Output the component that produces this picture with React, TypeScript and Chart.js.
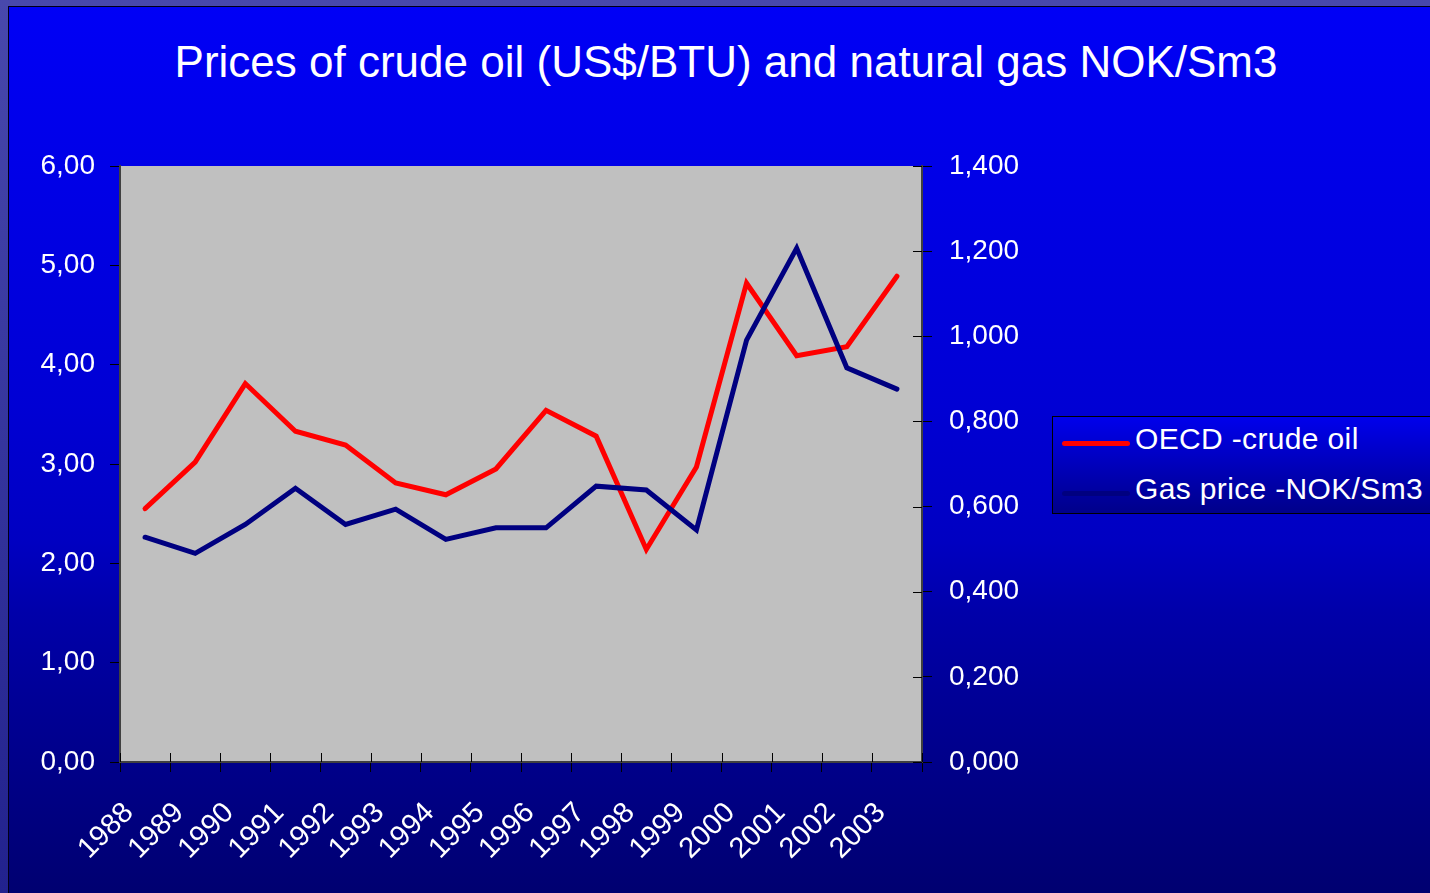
import React, { useEffect, useRef } from "react";
import { Chart, registerables } from "chart.js";

Chart.register(...registerables);

const titleText = "Prices of crude oil (US$/BTU) and natural gas NOK/Sm3";
const years = ["1988", "1989", "1990", "1991", "1992", "1993", "1994", "1995", "1996", "1997", "1998", "1999", "2000", "2001", "2002", "2003"];
const oilLabel = "OECD -crude oil";
const gasLabel = "Gas price -NOK/Sm3";
const oilPrices = [2.55, 3.02, 3.81, 3.33, 3.19, 2.81, 2.69, 2.95, 3.54, 3.28, 2.14, 2.97, 4.82, 4.09, 4.18, 4.89];
const gasPrices = [0.528, 0.49, 0.558, 0.643, 0.558, 0.594, 0.523, 0.55, 0.55, 0.648, 0.639, 0.545, 0.991, 1.207, 0.926, 0.876];
const leftAxisMin = 0;
const leftAxisMax = 6;
const leftAxisStep = 1;
const rightAxisMin = 0;
const rightAxisMax = 1.4;
const rightAxisStep = 0.2;

const FONT = "'Liberation Sans', Arial, sans-serif";
const OIL_COLOR = "#FF0000";
const GAS_COLOR = "#000080";

const plotDecor = {
  id: "plotDecor",
  beforeDraw(chart: any) {
    const { ctx, chartArea: a } = chart;
    ctx.save();
    ctx.fillStyle = "#C0C0C0";
    ctx.fillRect(a.left, a.top, a.right - a.left, a.bottom - a.top);
    ctx.restore();
  },
  beforeDatasetsDraw(chart: any) {
    const { ctx, chartArea: a } = chart;
    const xs = chart.scales.x;
    const y1 = chart.scales.y1;
    ctx.save();
    ctx.strokeStyle = "#000000";
    ctx.lineWidth = 1;
    const half = (xs.getPixelForValue(1) - xs.getPixelForValue(0)) / 2;
    for (let i = 0; i <= years.length; i++) {
      const x = Math.round(xs.getPixelForValue(i) - half) + 0.5;
      ctx.beginPath();
      ctx.moveTo(x, a.bottom - 9);
      ctx.lineTo(x, a.bottom);
      ctx.stroke();
    }
    y1.ticks.forEach((_t: any, i: number) => {
      const y = Math.round(y1.getPixelForTick(i)) + 0.5;
      ctx.beginPath();
      ctx.moveTo(a.right - 9, y);
      ctx.lineTo(a.right, y);
      ctx.stroke();
    });
    ctx.restore();
  },
};

function ChartCanvas() {
  const ref = useRef<HTMLCanvasElement | null>(null);
  useEffect(() => {
    if (!ref.current) return;
    const tickFont = { family: FONT, size: 28 };
    const chart = new Chart(ref.current, {
      type: "line",
      data: {
        labels: years,
        datasets: [
          {
            label: oilLabel,
            data: oilPrices,
            yAxisID: "y",
            borderColor: OIL_COLOR,
            backgroundColor: OIL_COLOR,
            borderWidth: 5,
            pointRadius: 0,
            borderCapStyle: "round",
            tension: 0,
            order: 1,
          },
          {
            label: gasLabel,
            data: gasPrices,
            yAxisID: "y1",
            borderColor: GAS_COLOR,
            backgroundColor: GAS_COLOR,
            borderWidth: 5,
            pointRadius: 0,
            borderCapStyle: "round",
            tension: 0,
            order: 0,
          },
        ],
      },
      options: {
        animation: false,
        responsive: false,
        maintainAspectRatio: false,
        layout: { padding: { top: 166, right: 388, bottom: 0, left: 0 } },
        plugins: {
          legend: { display: false },
          tooltip: { enabled: false },
          title: { display: false },
        },
        scales: {
          x: {
            type: "category",
            offset: true,
            grid: { offset: true, drawOnChartArea: false, tickLength: 10, color: "#000000", lineWidth: 1 },
            border: { display: true, color: "#404040", width: 2 },
            ticks: {
              color: "#FFFFFF",
              font: { family: FONT, size: 29 },
              minRotation: 45,
              maxRotation: 45,
              autoSkip: false,
              padding: 24,
              labelOffset: -16,
            },
            afterFit: (s: any) => {
              s.height = 131;
            },
          },
          y: {
            position: "left",
            min: leftAxisMin,
            max: leftAxisMax,
            grid: { drawOnChartArea: false, tickLength: 10, color: "#000000", lineWidth: 1 },
            border: { display: true, color: "#404040", width: 2 },
            ticks: {
              stepSize: leftAxisStep,
              color: "#FFFFFF",
              font: tickFont,
              padding: 15,
              callback: (v: any) => Number(v).toFixed(2).replace(".", ","),
            },
            afterFit: (s: any) => {
              s.width = 120;
            },
          },
          y1: {
            position: "right",
            min: rightAxisMin,
            max: rightAxisMax,
            grid: { drawOnChartArea: false, tickLength: 10, color: "#000000", lineWidth: 1 },
            border: { display: true, color: "#404040", width: 2 },
            ticks: {
              stepSize: rightAxisStep,
              color: "#FFFFFF",
              font: tickFont,
              padding: 17,
              callback: (v: any) => Number(v).toFixed(3).replace(".", ","),
            },
            afterFit: (s: any) => {
              s.width = 120;
            },
          },
        },
      },
      plugins: [plotDecor],
    } as any);
    return () => chart.destroy();
  }, []);
  return <canvas ref={ref} width={1430} height={893} style={{ position: "absolute", left: 0, top: 0 }} />;
}

export default function App() {
  const legendItems = [
    { label: oilLabel, color: OIL_COLOR },
    { label: gasLabel, color: GAS_COLOR },
  ];
  return (
    <div
      style={{
        position: "fixed",
        left: 0,
        top: 0,
        width: 1430,
        height: 893,
        overflow: "hidden",
        background: "linear-gradient(#4848AC, #22228E)",
        fontFamily: FONT,
      }}
    >
      <div
        style={{
          position: "absolute",
          left: 8,
          top: 6,
          right: -2,
          bottom: -2,
          borderTop: "1px solid #000018",
          borderLeft: "1px solid #000018",
          background:
            "linear-gradient(#0000F6 0%, #0000EA 15%, #0000D4 45%, #0000C2 60%, #0000AA 68%, #000096 78%, #000070 100%)",
        }}
      />
      <div
        style={{
          position: "absolute",
          left: 0,
          top: 36,
          width: 1452,
          textAlign: "center",
          color: "#FFFFFF",
          fontSize: 44,
          lineHeight: "52px",
          whiteSpace: "nowrap",
        }}
      >
        {titleText}
      </div>
      <ChartCanvas />
      <div
        style={{
          position: "absolute",
          left: 1052,
          top: 416,
          width: 420,
          height: 96,
          border: "1px solid #000000",
          background: "linear-gradient(#0000EC, #00008A)",
        }}
      >
        {legendItems.map((it, i) => (
          <React.Fragment key={it.label}>
            <div
              style={{
                position: "absolute",
                left: 9,
                top: 24 + i * 50,
                width: 68,
                height: 5,
                borderRadius: 3,
                background: it.color,
              }}
            />
            <div
              style={{
                position: "absolute",
                left: 82,
                top: 7 + i * 50,
                fontSize: 30,
                lineHeight: "30px",
                letterSpacing: "0.35px",
                color: "#FFFFFF",
                whiteSpace: "nowrap",
              }}
            >
              {it.label}
            </div>
          </React.Fragment>
        ))}
      </div>
    </div>
  );
}
